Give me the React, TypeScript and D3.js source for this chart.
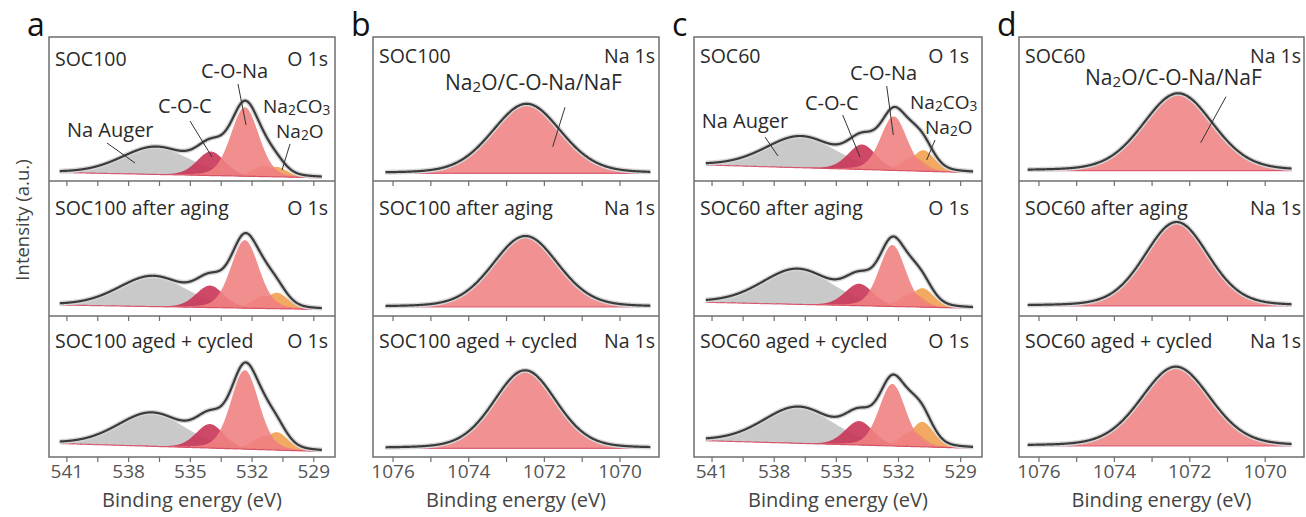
import React from 'react';
import * as d3 from 'd3';

const FONT = '"Open Sans", "Noto Sans", sans-serif';
const ETA = 0.2; // Lorentzian fraction of the pseudo-Voigt line shape

// ---------- O 1s fits: Na Auger, C-O-C, C-O-Na, Na2CO3, Na2O ----------
const o1sFill = ['#c3c3c3', '#c93557', '#ef8282', '#ec8a70', '#f1a151'];
const o1sDrawOrder = [0, 1, 4, 3, 2];

const soc100Titles = ['SOC100', 'SOC100 after aging', 'SOC100 aged + cycled'];
const soc60Titles = ['SOC60', 'SOC60 after aging', 'SOC60 aged + cycled'];

const soc100O1sCenter = [
  [536.7, 534.0, 532.35, 531.4, 530.8],
  [536.85, 534.05, 532.35, 531.4, 530.8],
  [536.9, 534.05, 532.35, 531.4, 530.8],
];
const soc100O1sHeight = [
  [27, 24, 69, 11, 10],
  [30, 22, 68, 13, 16],
  [33, 24, 79, 14, 18],
];
const soc100O1sFwhm = [
  [3.9, 1.6, 1.6, 1.3, 1.2],
  [3.9, 1.6, 1.6, 1.3, 1.3],
  [3.9, 1.6, 1.6, 1.3, 1.3],
];
const soc100O1sBackground = [[8.5, 3.2], [11, 6.5], [13.5, 5.5]];
const soc100O1sRange = [541.35, 528.6];

const soc60O1sCenter = [
  [536.74, 533.76, 532.23, 531.3, 530.8],
  [536.9, 533.9, 532.3, 531.35, 530.85],
  [536.85, 533.9, 532.3, 531.35, 530.85],
];
const soc60O1sHeight = [
  [31, 25, 54, 14, 21],
  [35, 22, 61.5, 14, 19],
  [36, 24, 62, 15, 25],
];
const soc60O1sFwhm = [
  [4.0, 1.6, 1.5, 1.3, 1.3],
  [4.0, 1.6, 1.5, 1.3, 1.3],
  [4.0, 1.6, 1.5, 1.3, 1.3],
];
const soc60O1sBackground = [[16, 8.3], [13.7, 7.7], [16.3, 8.7]];
const soc60O1sRange = [541.3, 528.4];

// ---------- Na 1s fits: single Na2O/C-O-Na/NaF component ----------
const na1sFill = '#ef8585';
const soc100Na1sCenter = [1072.47, 1072.5, 1072.51];
const soc100Na1sHeight = [69.5, 71, 78];
const soc100Na1sFwhm = [2.15, 2.05, 1.95];
const soc100Na1sBackground = [7.7, 9, 8.7];
const soc100Na1sRange = [1076.2, 1069.2];

const soc60Na1sCenter = [1072.31, 1072.35, 1072.37];
const soc60Na1sHeight = [77.4, 84, 79.3];
const soc60Na1sFwhm = [2.2, 2.0, 2.17];
const soc60Na1sBackground = [10.3, 10, 11];
const soc60Na1sRange = [1076.3, 1069.3];

// ---------- axes ----------
const o1sDomain = [541.87, 527.97];
const o1sMajor = [541, 538, 535, 532, 529];
const o1sMinor = [539.5, 536.5, 533.5, 530.5];
const na1sDomain = [1076.53, 1068.97];
const na1sMajor = [1076, 1074, 1072, 1070];
const na1sMinor = [1075, 1073, 1071];

const ROW_EDGES = [37, 181, 316, 457];
const TEXT = '#2a2a2a';
const FRAME = '#6e6e6e';

type Annot = { text: string; x: number; y: number; size?: number; line?: [number, number, number, number] };

const pv = (e: number, c: number, h: number, w: number) => {
  const t = (e - c) / w;
  return h * ((1 - ETA) * Math.exp(-4 * Math.LN2 * t * t) + ETA / (1 + 4 * t * t));
};

function chem(s: string) {
  const parts = s.split(/(_\d)/).filter(Boolean);
  let prevSub = false;
  return parts.map((p, i) => {
    if (p.startsWith('_')) {
      prevSub = true;
      return (
        <tspan key={i} fontSize="0.72em" dy={2}>
          {p.slice(1)}
        </tspan>
      );
    }
    const dy = prevSub ? -2 : 0;
    prevSub = false;
    return (
      <tspan key={i} dy={dy}>
        {p}
      </tspan>
    );
  });
}

type RowFit = {
  centers: number[];
  heights: number[];
  fwhms: number[];
  bg: [number, number];
  fills: string[];
  order: number[];
};

function FitRow({ x, top, bottom, range, fit }: { x: d3.ScaleLinear<number, number>; top: number; bottom: number; range: number[]; fit: RowFit }) {
  const y = d3.scaleLinear().domain([0, bottom - top]).range([bottom, top]);
  const energies = d3.range(range[0], range[1] - 1e-9, -0.02);
  const bgAt = (e: number) => fit.bg[0] + ((fit.bg[1] - fit.bg[0]) * (range[0] - e)) / (range[0] - range[1]);
  const comp = (k: number, e: number) => pv(e, fit.centers[k], fit.heights[k], fit.fwhms[k]);
  const envelope = (e: number) => bgAt(e) + fit.centers.reduce((s, _c, k) => s + comp(k, e), 0);

  const line = d3
    .line<number>()
    .x((e) => x(e))
    .y((e) => y(envelope(e)))
    .curve(d3.curveBasis);
  const bgLine = d3
    .line<number>()
    .x((e) => x(e))
    .y((e) => y(bgAt(e)));

  return (
    <g>
      {fit.order.map((k) => {
        const area = d3
          .area<number>()
          .x((e) => x(e))
          .y0((e) => y(bgAt(e)))
          .y1((e) => y(bgAt(e) + comp(k, e)));
        return <path key={k} d={area(energies) || ''} fill={fit.fills[k]} fillOpacity={0.9} />;
      })}
      <path d={bgLine(energies) || ''} fill="none" stroke="#d2455f" strokeWidth={1.2} strokeOpacity={0.8} />
      <path d={line(energies) || ''} fill="none" stroke="#d6d6d6" strokeWidth={5} strokeLinejoin="round" />
      <path d={line(energies) || ''} fill="none" stroke="#3b3b3b" strokeWidth={2.2} strokeLinejoin="round" />
    </g>
  );
}

type PanelCfg = {
  letter: string;
  x0: number;
  x1: number;
  domain: number[];
  major: number[];
  minor: number[];
  range: number[];
  titles: string[];
  core: string;
  titleY: number[];
  rightPad: number;
  rows: RowFit[];
  annots: Annot[];
};

function Panel({ cfg }: { cfg: PanelCfg }) {
  const x = d3.scaleLinear().domain(cfg.domain).range([cfg.x0, cfg.x1]);
  const top = ROW_EDGES[0];
  const bottom = ROW_EDGES[3];
  const ticks = [...cfg.major, ...cfg.minor];
  return (
    <g>
      <text x={cfg.x0 - 22} y={36} fontSize={32} fill="#111">
        {cfg.letter}
      </text>
      {cfg.rows.map((fit, r) => (
        <FitRow key={r} x={x} top={ROW_EDGES[r]} bottom={ROW_EDGES[r + 1]} range={cfg.range} fit={fit} />
      ))}
      {/* frame and row dividers */}
      <rect x={cfg.x0} y={top} width={cfg.x1 - cfg.x0} height={bottom - top} fill="none" stroke={FRAME} strokeWidth={1.5} />
      {[ROW_EDGES[1], ROW_EDGES[2]].map((yy) => (
        <line key={yy} x1={cfg.x0} x2={cfg.x1} y1={yy} y2={yy} stroke={FRAME} strokeWidth={1.5} />
      ))}
      {/* ticks on every row's bottom edge */}
      {[ROW_EDGES[1], ROW_EDGES[2], ROW_EDGES[3]].map((yy) =>
        ticks.map((t) => (
          <line key={`${yy}-${t}`} x1={x(t)} x2={x(t)} y1={yy} y2={yy + 5} stroke={FRAME} strokeWidth={1.2} />
        ))
      )}
      {cfg.major.map((t) => (
        <text key={t} x={x(t)} y={477.5} fontSize={19} fill="#555" textAnchor="middle">
          {t}
        </text>
      ))}
      <text x={(cfg.x0 + cfg.x1) / 2} y={507} fontSize={20} fill="#444" textAnchor="middle">
        Binding energy (eV)
      </text>
      {cfg.titles.map((t, r) => (
        <g key={t}>
          <text x={cfg.x0 + 6} y={cfg.titleY[r]} fontSize={19.5} fill={TEXT}>
            {t}
          </text>
          <text x={cfg.x1 - cfg.rightPad} y={cfg.titleY[r]} fontSize={19.5} fill={TEXT} textAnchor="end">
            {cfg.core}
          </text>
        </g>
      ))}
      {cfg.annots.map((a) => (
        <g key={a.text}>
          <text x={cfg.x0 + a.x} y={top + a.y} fontSize={a.size ?? 20} fill={TEXT}>
            {chem(a.text)}
          </text>
          {a.line && (
            <line
              x1={cfg.x0 + a.line[0]}
              y1={top + a.line[1]}
              x2={cfg.x0 + a.line[2]}
              y2={top + a.line[3]}
              stroke="#333"
              strokeWidth={1}
            />
          )}
        </g>
      ))}
    </g>
  );
}

const o1sRows = (c: number[][], h: number[][], w: number[][], bg: number[][]): RowFit[] =>
  c.map((_, r) => ({
    centers: c[r],
    heights: h[r],
    fwhms: w[r],
    bg: [bg[r][0], bg[r][1]],
    fills: o1sFill,
    order: o1sDrawOrder,
  }));

const na1sRows = (c: number[], h: number[], w: number[], bg: number[]): RowFit[] =>
  c.map((_, r) => ({
    centers: [c[r]],
    heights: [h[r]],
    fwhms: [w[r]],
    bg: [bg[r], bg[r]],
    fills: [na1sFill],
    order: [0],
  }));

const panels: PanelCfg[] = [
  {
    letter: 'a',
    x0: 49,
    x1: 335,
    domain: o1sDomain,
    major: o1sMajor,
    minor: o1sMinor,
    range: soc100O1sRange,
    titles: soc100Titles,
    core: 'O 1s',
    titleY: [65.5, 215, 348.3],
    rightPad: 7,
    rows: o1sRows(soc100O1sCenter, soc100O1sHeight, soc100O1sFwhm, soc100O1sBackground),
    annots: [
      { text: 'Na Auger', x: 18, y: 100, line: [58, 106, 86, 126] },
      { text: 'C-O-C', x: 109, y: 76, line: [141, 84, 163, 120] },
      { text: 'C-O-Na', x: 152, y: 41, line: [189, 47, 197, 88] },
      { text: 'Na_2CO_3', x: 214, y: 76, size: 19 },
      { text: 'Na_2O', x: 227, y: 101, size: 19, line: [241, 107, 233, 133] },
    ],
  },
  {
    letter: 'b',
    x0: 373,
    x1: 659,
    domain: na1sDomain,
    major: na1sMajor,
    minor: na1sMinor,
    range: soc100Na1sRange,
    titles: soc100Titles,
    core: 'Na 1s',
    titleY: [63, 215, 348.3],
    rightPad: 4,
    rows: na1sRows(soc100Na1sCenter, soc100Na1sHeight, soc100Na1sFwhm, soc100Na1sBackground),
    annots: [{ text: 'Na_2O/C-O-Na/NaF', x: 72, y: 53, size: 21, line: [192, 70.3, 179.7, 109.7] }],
  },
  {
    letter: 'c',
    x0: 694,
    x1: 982,
    domain: o1sDomain,
    major: o1sMajor,
    minor: o1sMinor,
    range: soc60O1sRange,
    titles: soc60Titles,
    core: 'O 1s',
    titleY: [63, 215, 348.3],
    rightPad: 13,
    rows: o1sRows(soc60O1sCenter, soc60O1sHeight, soc60O1sFwhm, soc60O1sBackground),
    annots: [
      { text: 'Na Auger', x: 7.7, y: 91, line: [71, 100, 84, 119] },
      { text: 'C-O-C', x: 111, y: 73, line: [148.7, 78, 166, 120] },
      { text: 'C-O-Na', x: 156, y: 43, line: [192.7, 49, 199.3, 98] },
      { text: 'Na_2CO_3', x: 216, y: 72, size: 19 },
      { text: 'Na_2O', x: 231, y: 97, size: 19, line: [241, 103, 232.7, 123] },
    ],
  },
  {
    letter: 'd',
    x0: 1019,
    x1: 1304,
    domain: na1sDomain,
    major: na1sMajor,
    minor: na1sMinor,
    range: soc60Na1sRange,
    titles: soc60Titles,
    core: 'Na 1s',
    titleY: [63, 215, 348.3],
    rightPad: 3,
    rows: na1sRows(soc60Na1sCenter, soc60Na1sHeight, soc60Na1sFwhm, soc60Na1sBackground),
    annots: [{ text: 'Na_2O/C-O-Na/NaF', x: 66, y: 48, size: 21, line: [207, 59.7, 181.7, 105.7] }],
  },
];

export default function App() {
  return (
    <svg
      width={1306}
      height={517}
      style={{ position: 'absolute', left: 0, top: 0, background: '#fff' }}
      fontFamily={FONT}
    >
      <text transform="translate(29,220) rotate(-90)" fontSize={18.5} fill="#444" textAnchor="middle">
        Intensity (a.u.)
      </text>
      {panels.map((p) => (
        <Panel key={p.letter} cfg={p} />
      ))}
    </svg>
  );
}
